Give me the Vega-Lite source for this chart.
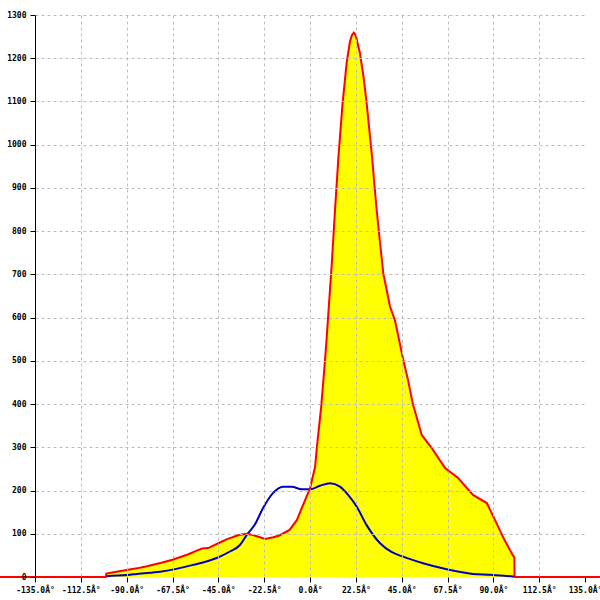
{
  "$schema": "https://vega.github.io/schema/vega-lite/v6.json",
  "width": 550,
  "height": 562,
  "autosize": {"type": "none"},
  "padding": {"left": 35, "top": 15, "right": 15, "bottom": 23},
  "background": "white",
  "config": {"view": {"stroke": null}},
  "datasets": {
    "total": [
      {"angle": -152.2, "value": 0}, {"angle": -100.2, "value": 0}, {"angle": -100, "value": 8},
      {"angle": -95, "value": 12}, {"angle": -90, "value": 16}, {"angle": -85, "value": 20},
      {"angle": -80, "value": 25}, {"angle": -73, "value": 33}, {"angle": -67.5, "value": 40},
      {"angle": -60, "value": 52}, {"angle": -55, "value": 62}, {"angle": -53, "value": 66},
      {"angle": -50, "value": 67}, {"angle": -45, "value": 78}, {"angle": -41, "value": 87},
      {"angle": -35, "value": 97}, {"angle": -31, "value": 100}, {"angle": -28, "value": 97},
      {"angle": -22, "value": 88}, {"angle": -18, "value": 92}, {"angle": -15, "value": 96},
      {"angle": -10, "value": 109}, {"angle": -6.4, "value": 132}, {"angle": -3.4, "value": 167},
      {"angle": 0, "value": 205}, {"angle": 2.5, "value": 255}, {"angle": 3.4, "value": 301},
      {"angle": 5.5, "value": 394}, {"angle": 7, "value": 480}, {"angle": 8, "value": 541},
      {"angle": 10.6, "value": 718}, {"angle": 12.3, "value": 850}, {"angle": 14, "value": 975},
      {"angle": 16, "value": 1096}, {"angle": 18, "value": 1190}, {"angle": 19.6, "value": 1238},
      {"angle": 20.6, "value": 1254}, {"angle": 21.5, "value": 1259}, {"angle": 22.5, "value": 1252},
      {"angle": 24.5, "value": 1212}, {"angle": 26.2, "value": 1160},
      {"angle": 27.8, "value": 1096}, {"angle": 30.3, "value": 980}, {"angle": 32.5, "value": 860},
      {"angle": 34.4, "value": 772}, {"angle": 36, "value": 702}, {"angle": 39.3, "value": 625},
      {"angle": 41.7, "value": 594}, {"angle": 45.8, "value": 502}, {"angle": 48.1, "value": 456},
      {"angle": 50.5, "value": 400}, {"angle": 54.9, "value": 328}, {"angle": 59.8, "value": 298},
      {"angle": 66.3, "value": 252}, {"angle": 72.7, "value": 229}, {"angle": 80, "value": 190},
      {"angle": 86.8, "value": 171}, {"angle": 90.8, "value": 132}, {"angle": 95, "value": 90},
      {"angle": 99.6, "value": 50}, {"angle": 100.3, "value": 46}, {"angle": 100.4, "value": 0},
      {"angle": 142.4, "value": 0}
    ],
    "other": [
      {"angle": -100.2, "value": 0}, {"angle": -99.8, "value": 2}, {"angle": -88.4, "value": 5},
      {"angle": -85.1, "value": 7}, {"angle": -73.6, "value": 12}, {"angle": -57.4, "value": 28},
      {"angle": -45.8, "value": 44}, {"angle": -39.3, "value": 59}, {"angle": -34.4, "value": 74},
      {"angle": -31.1, "value": 97}, {"angle": -27, "value": 122}, {"angle": -23.1, "value": 159},
      {"angle": -18.2, "value": 194}, {"angle": -13.3, "value": 209}, {"angle": -9, "value": 209},
      {"angle": -4.1, "value": 203}, {"angle": 0, "value": 203}, {"angle": 4.9, "value": 211},
      {"angle": 9.8, "value": 217}, {"angle": 14.7, "value": 209}, {"angle": 18.7, "value": 190},
      {"angle": 22.9, "value": 163}, {"angle": 27.8, "value": 120}, {"angle": 34.4, "value": 78},
      {"angle": 40, "value": 58}, {"angle": 45.7, "value": 47}, {"angle": 55.5, "value": 32},
      {"angle": 67.1, "value": 18}, {"angle": 80, "value": 7}, {"angle": 88.4, "value": 5},
      {"angle": 99.7, "value": 1}, {"angle": 100.6, "value": 0}
    ]
  },
  "encoding": {
    "x": {
      "field": "angle", "type": "quantitative",
      "scale": {"domain": [-135, 135], "nice": false, "zero": false},
      "axis": {
        "title": null,
        "values": [-135, -112.5, -90, -67.5, -45, -22.5, 0, 22.5, 45, 67.5, 90, 112.5, 135],
        "labelExpr": "replace(format(datum.value, '.1f'), '\u2212', '-') + 'Â°'",
        "labelFont": "DejaVu Sans Mono", "labelFontSize": 8, "labelColor": "black", "labelFontWeight": "bold",
        "labelPadding": 4, "labelFlush": false, "labelOverlap": false,
        "tickColor": "black", "tickSize": 5,
        "domain": false,
        "grid": true, "gridColor": "#bcbcbc", "gridDash": [3, 3],
        "gridOpacity": {"condition": {"test": "abs(datum.value) === 135", "value": 0}, "value": 1},
        "zindex": 1
      }
    },
    "y": {
      "field": "value", "type": "quantitative",
      "scale": {"domain": [0, 1300], "nice": false},
      "axis": {
        "title": null,
        "values": [0, 100, 200, 300, 400, 500, 600, 700, 800, 900, 1000, 1100, 1200, 1300],
        "format": "d",
        "labelFont": "DejaVu Sans Mono", "labelFontSize": 8, "labelColor": "black", "labelFontWeight": "bold",
        "labelPadding": 4, "labelFlush": false, "labelOverlap": false,
        "tickColor": "black", "tickSize": 5,
        "domain": true, "domainColor": "black",
        "grid": true, "gridColor": "#bcbcbc", "gridDash": [3, 3],
        "gridOpacity": {"condition": {"test": "datum.value === 0", "value": 0}, "value": 1},
        "zindex": 1
      }
    }
  },
  "layer": [
    {
      "data": {"name": "total"},
      "mark": {"type": "area", "color": "#ffff00", "clip": true}
    },
    {
      "data": {"values": [{"a": 1}]},
      "mark": {"type": "rule", "color": "black", "strokeWidth": 1},
      "encoding": {"x": null, "y": {"datum": 0}}
    },
    {
      "data": {"values": [{"a": 1}]},
      "mark": {"type": "rule", "color": "black", "strokeWidth": 1.5},
      "encoding": {"y": null, "x": {"datum": 135}}
    },
    {
      "data": {"name": "other"},
      "mark": {"type": "line", "color": "#0000c0", "strokeWidth": 2, "interpolate": "monotone"}
    },
    {
      "data": {"name": "total"},
      "mark": {"type": "line", "color": "#ff0000", "strokeWidth": 2, "clip": false}
    }
  ]
}
